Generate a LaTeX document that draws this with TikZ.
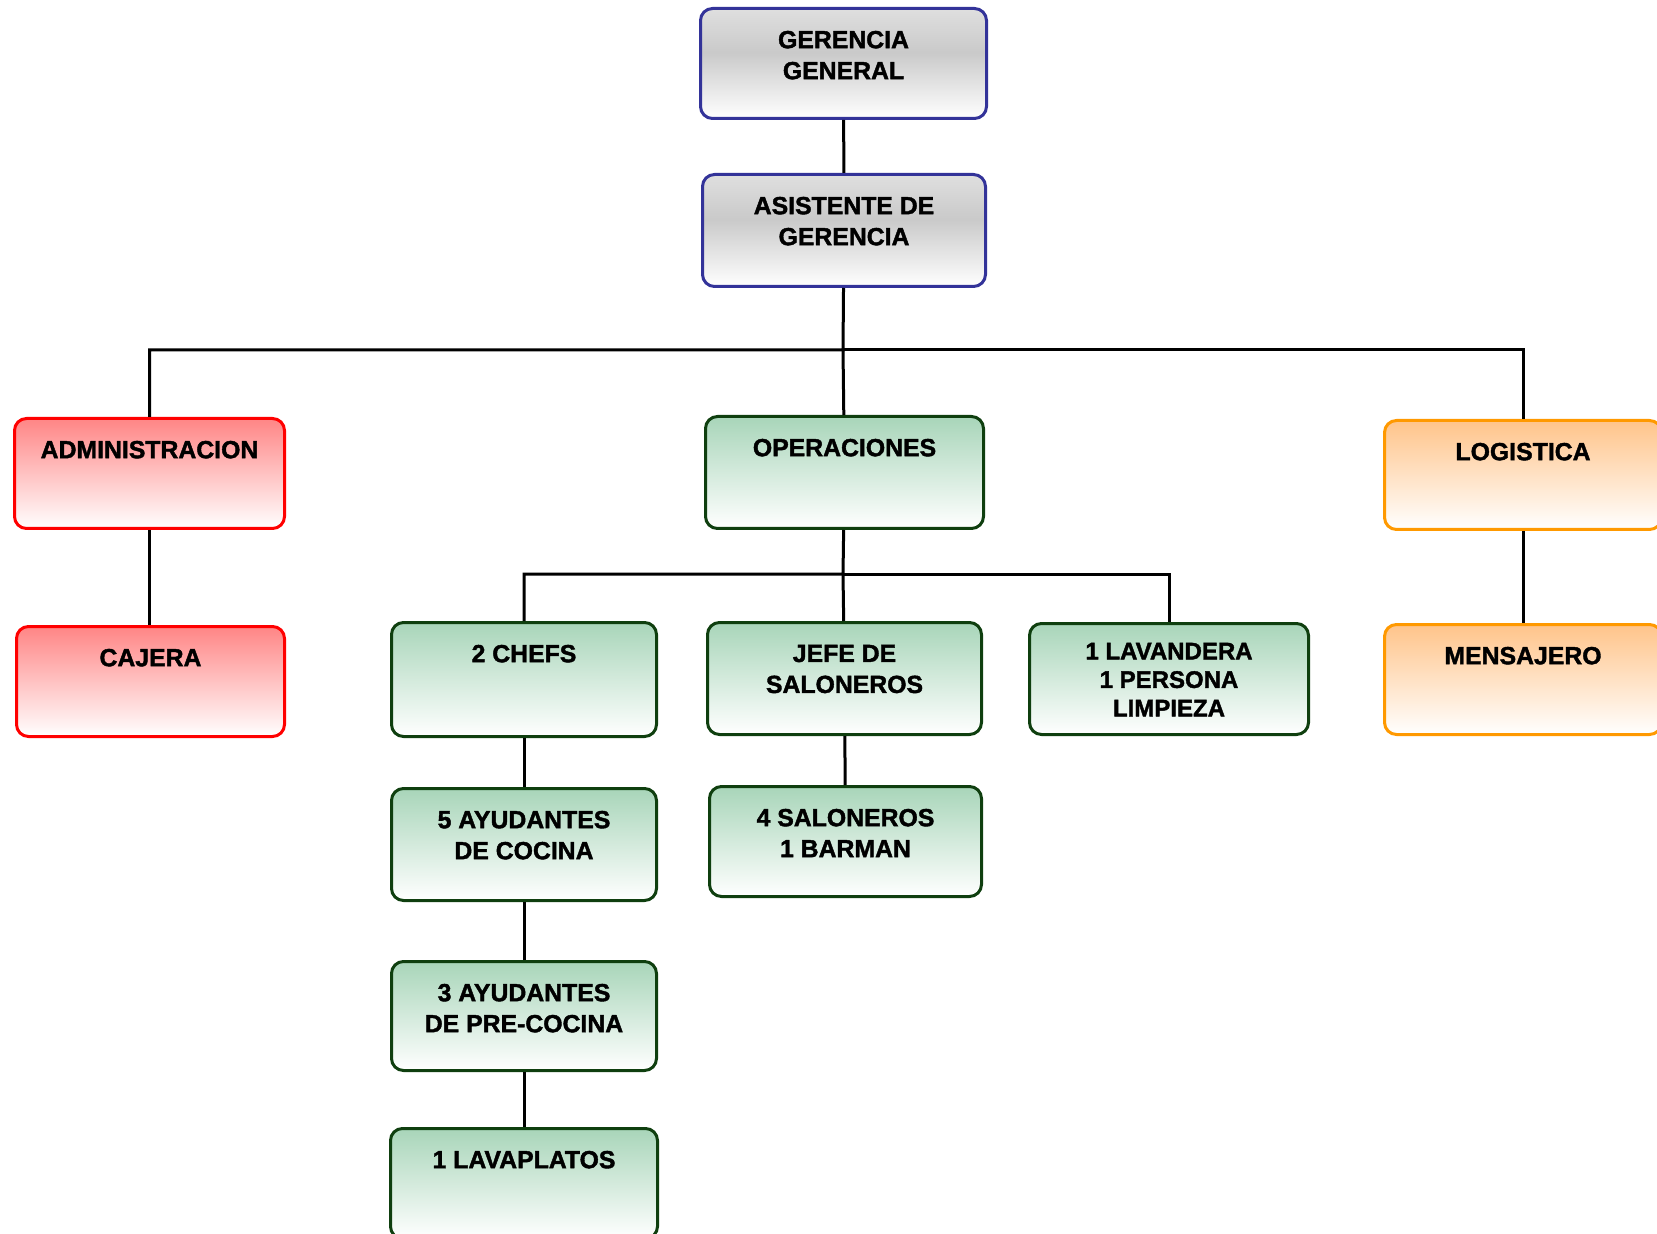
\documentclass[tikz,border=0pt]{standalone}
\usepackage{fontspec}
\setmainfont[BoldFeatures={FakeBold=1.6}]{Liberation Sans}

\definecolor{azul}{HTML}{333399}
\definecolor{rojo}{HTML}{FF0000}
\definecolor{rojoclaro}{HTML}{FF8585}
\definecolor{naranja}{HTML}{FF9900}
\definecolor{naranjaclaro}{HTML}{FFC48A}
\definecolor{verde}{HTML}{0F3F0F}
\definecolor{verdeclaro}{HTML}{A8D5B9}
\pgfdeclareverticalshading{gris}{100bp}{color(0bp)=(white); color(25bp)=(white); color(55bp)=(gray!42); color(75bp)=(gray!25); color(100bp)=(gray!25)}

% texto arriba dentro de una caja de ancho y alto fijos
\newcommand{\caja}[4][11.2pt]{\parbox[t][#3][t]{#2}{\centering\vspace*{#1}#4}}

\tikzset{
  puesto/.style={draw, line width=1.5pt, rounded corners=6pt, inner sep=0pt, anchor=north west,
    font=\fontsize{12.4}{15.5}\selectfont\bfseries},
  gerencia/.style={puesto, draw=azul, shade, shading=gris},
  admin/.style={puesto, draw=rojo, top color=rojoclaro, bottom color=white},
  oper/.style={puesto, draw=verde, top color=verdeclaro, bottom color=white},
  logis/.style={puesto, draw=naranja, top color=naranjaclaro, bottom color=white},
  linea/.style={line width=1.5pt}
}

\begin{document}
\begin{tikzpicture}[x=0.5pt,y=-0.5pt]
  \useasboundingbox (0,0) rectangle (1657,1234);

  \node[gerencia] (gg) at (699,7) {\caja{143pt}{55pt}{GERENCIA\\GENERAL}};
  \node[gerencia] (ag) at (701,173) {\caja{141.5pt}{56pt}{ASISTENTE DE\\GERENCIA}};

  \node[admin] (adm) at (13,417) {\caja{135pt}{55pt}{ADMINISTRACION}};
  \node[admin] (caj) at (15,625) {\caja{134pt}{55pt}{CAJERA}};

  \node[oper] (ope) at (704,415) {\caja{139pt}{56pt}{OPERACIONES}};

  \node[logis] (log) at (1383,419) {\caja{138.5pt}{54.5pt}{LOGISTICA}};
  \node[logis] (men) at (1383,623) {\caja{138.5pt}{55pt}{MENSAJERO}};

  \node[oper] (chef) at (390,621) {\caja{132.5pt}{57pt}{2 CHEFS}};
  \node[oper] (ayu5) at (390,787) {\caja{132.5pt}{56pt}{5 AYUDANTES\\DE COCINA}};
  \node[oper] (ayu3) at (390,960) {\caja{132.5pt}{54.5pt}{3 AYUDANTES\\DE PRE-COCINA}};
  \node[oper] (lavp) at (389,1127) {\caja{133.5pt}{55pt}{1 LAVAPLATOS}};

  \node[oper] (jefe) at (706,621) {\caja{137pt}{56pt}{JEFE DE\\SALONEROS}};
  \node[oper] (sal4) at (708,785) {\caja{136pt}{55pt}{4 SALONEROS\\1 BARMAN}};

  \node[oper] (lav) at (1028,622) {\caja[9.7pt]{139.5pt}{55.5pt}{\fontsize{12}{14.25}\selectfont 1 LAVANDERA\\1 PERSONA\\LIMPIEZA}};

  % conectores
  \coordinate (bus1) at (843,350);
  \coordinate (bus2) at (843,574);
  \draw[linea] (gg) -- (ag);
  \draw[linea] (ag) -- (bus1) -| (adm);
  \draw[linea] (bus1) -| (log);
  \draw[linea] (bus1) -- (ope);
  \draw[linea] (adm.south) -- (adm.south |- caj.north);
  \draw[linea] (log) -- (men);
  \draw[linea] (ope) -- (bus2) -| (chef);
  \draw[linea] (bus2) -| (lav);
  \draw[linea] (bus2) -- (jefe);
  \draw[linea] (chef) -- (ayu5);
  \draw[linea] (ayu5) -- (ayu3);
  \draw[linea] (ayu3) -- (lavp);
  \draw[linea] (jefe) -- (sal4);
\end{tikzpicture}
\end{document}
